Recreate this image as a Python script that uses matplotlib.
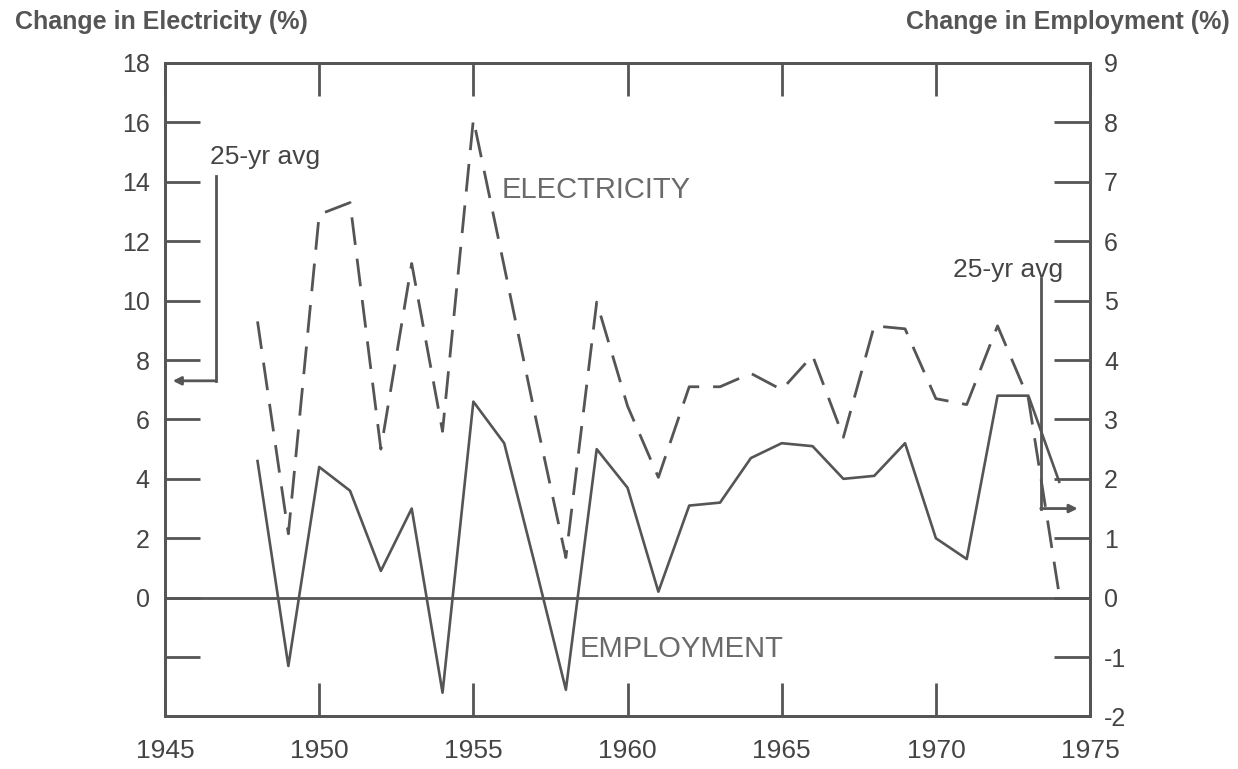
import numpy as np
import matplotlib.pyplot as plt

plt.rcParams['font.family'] = ['Liberation Sans', 'DejaVu Sans']
plt.rcParams['axes.unicode_minus'] = False

years = np.arange(1948, 1975)
# annual change, %
electricity = [9.3, 2.15, 12.9, 13.3, 5.0, 11.25, 5.6, 16.1, 11.15, 6.15,
               1.35, 9.95, 6.45, 4.05, 7.1, 7.1, 7.55, 7.0, 8.15, 5.4,
               9.15, 9.05, 6.7, 6.5, 9.15, 6.7, 0.1]
employment = [2.3, -1.15, 2.2, 1.8, 0.45, 1.5, -1.6, 3.3, 2.6, 0.55,
              -1.55, 2.5, 1.85, 0.1, 1.55, 1.6, 2.35, 2.6, 2.55, 2.0,
              2.05, 2.6, 1.0, 0.65, 3.4, 3.4, 1.95]
elec_avg = 7.3
emp_avg = 1.5

gray = '#555555'
light = '#6a6a6a'

fig = plt.figure(figsize=(12.38, 7.69), dpi=100)
ax = fig.add_axes([0.1333, 0.0683, 0.7472, 0.8498])
ax2 = ax.twinx()

ax.plot(years, electricity, color=gray, lw=2, linestyle=(0, (10, 5)))
ax2.plot(years, employment, color=gray, lw=1.9)
ax.axhline(0, color=gray, lw=2)

ax.set_xlim(1945, 1975)
ax.set_ylim(-4, 18)
ax2.set_ylim(-2, 9)

ax.set_xticks(range(1945, 1976, 5))
ax.tick_params(axis='x', direction='in', length=24, width=2, top=True,
               bottom=True, labelsize=19, pad=16, color=gray, labelcolor='#444444')
ax.set_yticks(range(-2, 19, 2))
ax.set_yticklabels([''] + [str(v) for v in range(0, 19, 2)])
ax.tick_params(axis='y', direction='in', length=25, width=2, labelsize=18,
               pad=11, color=gray, labelcolor='#444444')
ax2.set_yticks(range(-2, 10))
ax2.tick_params(axis='y', direction='in', length=26, width=2, labelsize=18,
                pad=10, color=gray, labelcolor='#444444')

for a in (ax, ax2):
    for s in a.spines.values():
        s.set_linewidth(2)
        s.set_color(gray)

# 25-year average markers
ax.plot([1946.65, 1946.65], [elec_avg, 14.2], color=gray, lw=2)
ax.annotate('', xy=(1945.25, elec_avg), xytext=(1946.65, elec_avg),
            arrowprops=dict(arrowstyle='-|>', color=gray, lw=2,
                            mutation_scale=12, shrinkA=0, shrinkB=0))
ax.text(1946.46, 14.83, '25-yr avg', fontsize=19, color='#444444',
        ha='left', va='center')

ax2.plot([1973.4, 1973.4], [emp_avg, 5.38], color=gray, lw=2)
ax2.annotate('', xy=(1974.6, emp_avg), xytext=(1973.4, emp_avg),
             arrowprops=dict(arrowstyle='-|>', color=gray, lw=2,
                             mutation_scale=12, shrinkA=0, shrinkB=0))
ax2.text(1974.13, 5.51, '25-yr avg', fontsize=19, color='#444444',
         ha='right', va='center')

ax.text(1955.92, 13.72, 'ELECTRICITY', fontsize=21, color=light,
        ha='left', va='center')
ax.text(1958.43, -1.72, 'EMPLOYMENT', fontsize=21, color=light,
        ha='left', va='center')

fig.text(15 / 1238, 1 - 22 / 769, 'Change in Electricity (%)', fontsize=18,
         fontweight='bold', color=gray, ha='left', va='center')
fig.text(1230 / 1238, 1 - 22 / 769, 'Change in Employment (%)', fontsize=18,
         fontweight='bold', color=gray, ha='right', va='center')

fig.savefig('out.png', dpi=100)
